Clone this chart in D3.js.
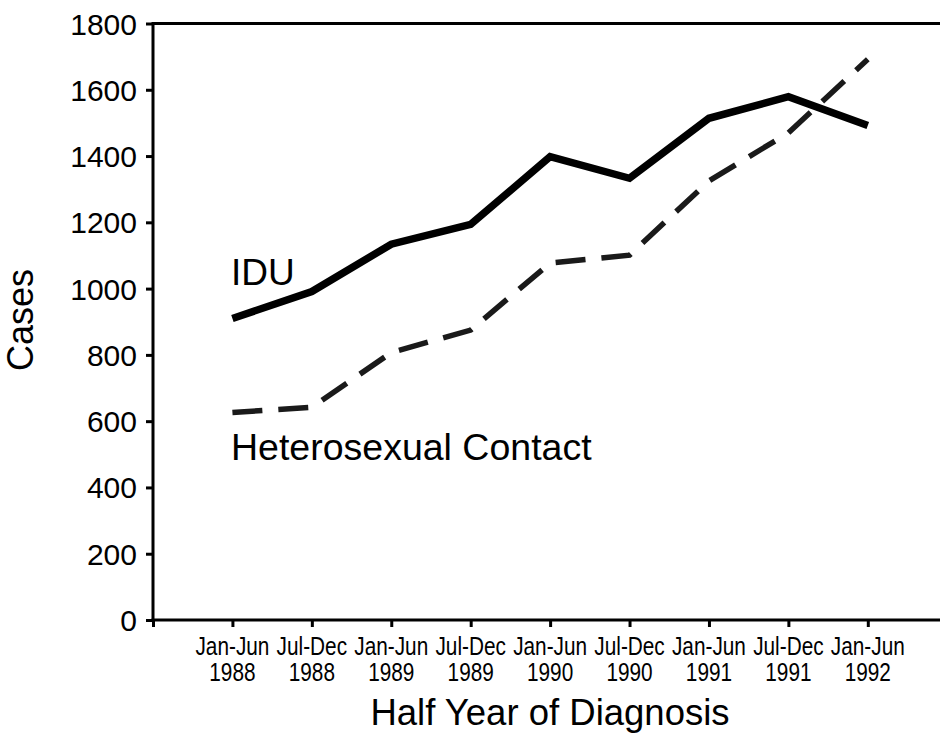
<!DOCTYPE html>
<html>
<head>
<meta charset="utf-8">
<script src="https://cdn.jsdelivr.net/npm/d3@7"></script>
<style>
  html, body { margin: 0; padding: 0; background: #fff; }
  svg { display: block; }
  text { font-family: "Liberation Sans", Arial, Helvetica, sans-serif; fill: #000; }
</style>
</head>
<body>
<svg id="chart" width="940" height="733"></svg>
<script>
// ---- data ----
const periods = ["Jan-Jun", "Jul-Dec", "Jan-Jun", "Jul-Dec", "Jan-Jun", "Jul-Dec", "Jan-Jun", "Jul-Dec", "Jan-Jun"];
const years   = ["1988", "1988", "1989", "1989", "1990", "1990", "1991", "1991", "1992"];
const idu     = [910, 991, 1134, 1194, 1398, 1333, 1514, 1579, 1492];
const hetero  = [626, 642, 807, 875, 1077, 1101, 1325, 1470, 1692];
const yTicks  = [0, 200, 400, 600, 800, 1000, 1200, 1400, 1600, 1800];

(function () {
const svg = d3.select("#chart");
const mLeft = 153, mRight = 940, mTop = 23.5, mBottom = 620;

const x = d3.scaleLinear().domain([-1, 8]).range([mLeft, 867.8]);
const y = d3.scaleLinear().domain([0, 1800]).range([mBottom, mTop]);

// top frame line
svg.append("line").attr("x1", mLeft).attr("x2", mRight).attr("y1", mTop).attr("y2", mTop)
  .attr("stroke", "#000").attr("stroke-width", 3);

// y axis
const yAxis = svg.append("g").attr("transform", `translate(${mLeft},0)`)
  .call(d3.axisLeft(y).tickValues(yTicks).tickSize(7).tickPadding(9).tickFormat(d3.format("d")));
yAxis.select(".domain").remove();
yAxis.selectAll(".tick line").attr("stroke", "#000").attr("stroke-width", 3);
yAxis.selectAll(".tick text").attr("font-size", 30).attr("font-family", "'Liberation Sans', Arial, sans-serif")
  .attr("fill", "#000").attr("dy", "0.35em");
svg.append("line").attr("x1", mLeft).attr("x2", mLeft).attr("y1", mTop - 1.5).attr("y2", mBottom + 1.5)
  .attr("stroke", "#000").attr("stroke-width", 3);

// x axis
const idx = d3.range(periods.length);
const xAxis = svg.append("g").attr("transform", `translate(0,${mBottom})`)
  .call(d3.axisBottom(x).tickValues([-1].concat(idx)).tickSize(7).tickFormat(""));
xAxis.select(".domain").remove();
xAxis.selectAll(".tick line").attr("stroke", "#000").attr("stroke-width", 3);
svg.append("line").attr("x1", mLeft - 1.5).attr("x2", mRight).attr("y1", mBottom).attr("y2", mBottom)
  .attr("stroke", "#000").attr("stroke-width", 3);

// x tick labels (condensed, two lines)
const lab = svg.append("g");
const inners = [];
idx.forEach(i => {
  const g = lab.append("g").attr("transform", `translate(${x(i)},0)`);
  const inner = g.append("g");
  inner.append("text").attr("x", 0).attr("y", 655).attr("text-anchor", "middle")
    .attr("font-size", 25).text(periods[i]);
  inner.append("text").attr("x", 0).attr("y", 681.5).attr("text-anchor", "middle")
    .attr("font-size", 25).text(years[i]);
  inners.push(inner);
});
const probe = lab.select("text").node();
const w = probe.getComputedTextLength();
const sx = w > 0 ? 74 / w : 0.83;
inners.forEach(g => g.attr("transform", `scale(${sx},1)`));

// axis titles
svg.append("text").attr("x", 550).attr("y", 725).attr("text-anchor", "middle")
  .attr("font-size", 36.5).text("Half Year of Diagnosis");
svg.append("text").attr("transform", "translate(33,320) rotate(-90)").attr("text-anchor", "middle")
  .attr("font-size", 36).text("Cases");

// lines
const line = d3.line().x((d, i) => x(i)).y(d => y(d));
svg.append("path").datum(hetero).attr("d", line).attr("fill", "none")
  .attr("stroke", "#1a1a1a").attr("stroke-width", 5.5).attr("stroke-dasharray", "30,16");
svg.append("path").datum(idu).attr("d", line).attr("fill", "none")
  .attr("stroke", "#000").attr("stroke-width", 7.5);

// series labels
svg.append("text").attr("x", 231).attr("y", 285).attr("font-size", 37).text("IDU");
svg.append("text").attr("x", 231).attr("y", 460).attr("font-size", 37.5).text("Heterosexual Contact");
})();
</script>
</body>
</html>
